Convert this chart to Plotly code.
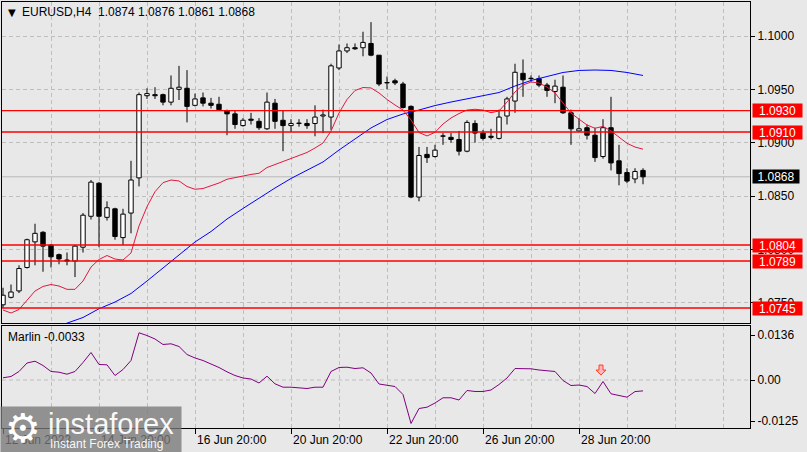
import plotly.graph_objects as go

# ---------------- data ----------------
opens = [1.0748,1.0755,1.0761,1.0783,1.0807,1.0816,1.0804,1.0795,1.0790,1.0789,
         1.0802,1.0831,1.0862,1.0830,1.0838,1.0811,1.0834,1.0867,1.0944,1.0945,
         1.0945,1.0938,1.0950,1.0951,1.0935,1.0942,1.0937,1.0936,1.0930,1.0927,
         1.0916,1.0922,1.0920,1.0913,1.0937,1.0921,1.0916,1.0918,1.0918,1.0918,
         1.0925,1.0924,1.0970,1.0986,1.0989,1.0989,1.0993,1.0982,1.0956,1.0958,
         1.0955,1.0934,1.0849,1.0889,1.0887,1.0906,1.0905,1.0903,1.0892,1.0918,
         1.0909,1.0906,1.0904,1.0925,1.0939,1.0965,1.0960,1.0960,1.0954,1.0948,
         1.0952,1.0928,1.0911,1.0914,1.0907,1.0887,1.0914,1.0883,1.0872,1.0866,
         1.0874]
closes = [1.0757,1.0760,1.0782,1.0809,1.0815,1.0803,1.0793,1.0791,1.0789,1.0803,
          1.0832,1.0863,1.0831,1.0839,1.0812,1.0833,1.0865,1.0945,1.0946,1.0944,
          1.0938,1.0951,1.0952,1.0934,1.0941,1.0937,1.0935,1.0931,1.0927,1.0917,
          1.0921,1.0921,1.0914,1.0938,1.0920,1.0916,1.0918,1.0918,1.0916,1.0924,
          1.0926,1.0972,1.0986,1.0989,1.0988,1.0994,1.0982,1.0955,1.0956,1.0956,
          1.0933,1.0849,1.0888,1.0886,1.0893,1.0906,1.0903,1.0892,1.0919,1.0909,
          1.0904,1.0905,1.0924,1.0941,1.0966,1.0959,1.0960,1.0954,1.0949,1.0953,
          1.0928,1.0913,1.0913,1.0907,1.0886,1.0914,1.0881,1.0871,1.0864,1.0873,
          1.0868]
highs = [1.0764,1.0767,1.0785,1.0810,1.0824,1.0817,1.0805,1.0796,1.0797,1.0804,
         1.0834,1.0865,1.0863,1.0845,1.0839,1.0838,1.0883,1.0947,1.0951,1.0952,
         1.0946,1.0963,1.0972,1.0968,1.0946,1.0947,1.0942,1.0943,1.0931,1.0930,
         1.0923,1.0928,1.0923,1.0947,1.0941,1.0930,1.0922,1.0922,1.0922,1.0935,
         1.0931,1.0974,1.0992,1.0993,1.0993,1.1004,1.1013,1.0982,1.0962,1.0960,
         1.0957,1.0935,1.0896,1.0896,1.0898,1.0909,1.0909,1.0911,1.0921,1.0921,
         1.0912,1.0913,1.0931,1.0943,1.0974,1.0978,1.0963,1.0963,1.0956,1.0959,
         1.0963,1.0931,1.0923,1.0917,1.0914,1.0922,1.0943,1.0898,1.0876,1.0876,
         1.0876]
lows = [1.0745,1.0754,1.0759,1.0782,1.0785,1.0779,1.0783,1.0786,1.0785,1.0774,
        1.0797,1.0828,1.0802,1.0827,1.0809,1.0804,1.0815,1.0859,1.0941,1.0941,
        1.0935,1.0935,1.0940,1.0919,1.0934,1.0934,1.0932,1.0930,1.0907,1.0913,
        1.0915,1.0917,1.0912,1.0912,1.0913,1.0892,1.0910,1.0915,1.0913,1.0906,
        1.0909,1.0912,1.0968,1.0984,1.0987,1.0981,1.0981,1.0953,1.0950,1.0954,
        1.0932,1.0848,1.0845,1.0881,1.0886,1.0898,1.0900,1.0888,1.0891,1.0900,
        1.0902,1.0903,1.0903,1.0917,1.0928,1.0943,1.0957,1.0952,1.0943,1.0937,
        1.0927,1.0898,1.0910,1.0903,1.0882,1.0885,1.0874,1.0860,1.0862,1.0862,
        1.0861]

ma_fast = [1.07431,1.07403,1.07436,1.07525,1.07609,1.07652,1.07670,1.07656,1.07625,1.07625,
           1.07703,1.07834,1.07905,1.07942,1.07909,1.07900,1.07966,1.08219,1.08400,1.08540,
           1.08625,1.08650,1.08641,1.08589,1.08563,1.08570,1.08594,1.08622,1.08657,1.08673,
           1.08692,1.08702,1.08713,1.08767,1.08795,1.08823,1.08852,1.08880,1.08908,1.08950,
           1.08997,1.09109,1.09278,1.09405,1.09489,1.09517,1.09513,1.09466,1.09405,1.09353,
           1.09306,1.09213,1.09095,1.09063,1.09097,1.09175,1.09231,1.09273,1.09306,1.09313,
           1.09306,1.09281,1.09297,1.09381,1.09475,1.09541,1.09569,1.09559,1.09522,1.09466,
           1.09370,1.09278,1.09220,1.09166,1.09135,1.09153,1.09110,1.09053,1.08994,1.08959,
           1.08939]

ma_slow_idx = [0,4,8,10,12,14,16,18,20,22,24,26,28,30,32,34,36,38,40,42,44,46,48,50,
               52,54,56,58,60,62,64,66,68,70,72,74,76,78,80]
ma_slow = [1.07038,1.07173,1.07308,1.07361,1.07443,1.07506,1.07586,1.07703,1.07828,1.07947,
           1.08069,1.08167,1.08284,1.08383,1.08481,1.08575,1.08664,1.08744,1.08819,1.08931,
           1.09034,1.09138,1.09217,1.09269,1.09306,1.09348,1.09381,1.09409,1.09438,1.09470,
           1.09531,1.09583,1.09620,1.09658,1.09677,1.09681,1.09677,1.09658,1.09630]

marlin = [0.00067,0.00106,0.00258,0.00515,0.0057,0.00439,0.00258,0.00236,0.00176,0.00258,
          0.0053,0.00833,0.0047,0.0046,0.00136,0.00318,0.00591,0.0143,0.01348,0.01242,
          0.01076,0.01097,0.01015,0.00773,0.00667,0.00591,0.00485,0.00379,0.00248,0.00136,
          0.00061,0.0003,-0.00091,0.00115,-0.00115,-0.00218,-0.00218,-0.00227,-0.00258,-0.00218,
          -0.00218,0.00258,0.00379,0.00388,0.00348,0.0037,0.00212,-0.00121,-0.00152,-0.00197,
          -0.0044,-0.01318,-0.00864,-0.00824,-0.00697,-0.00539,-0.00539,-0.00606,-0.00318,-0.00348,
          -0.00348,-0.00303,-0.00136,0.00061,0.00348,0.00348,0.00339,0.00303,0.00273,0.00258,
          -0.00015,-0.00167,-0.00152,-0.00197,-0.00409,-0.00045,-0.00418,-0.0047,-0.00521,-0.0035,
          -0.0033]

levels = [1.0930, 1.0910, 1.0804, 1.0789, 1.0745]
last_price = 1.0868
signal_bar = 74.75
signal_value = 0.0015

price_ticks = [1.1000, 1.0950, 1.0900, 1.0850, 1.0800, 1.0750]
osc_ticks = [0.0136, 0.0, -0.0125]
osc_ticktext = ["0.0136", "0.00", "-0.0125"]
date_idx = [0, 12, 24, 36, 48, 60, 72]
date_labels = ["12 Jun 2023", "14 Jun 20:00", "16 Jun 20:00", "20 Jun 20:00",
               "22 Jun 20:00", "26 Jun 20:00", "28 Jun 20:00"]
title_text = "EURUSD,H4  1.0874 1.0876 1.0861 1.0868"
osc_label = "Marlin -0.0033"

# ---------------- layout geometry ----------------
W, H = 807, 452
ML, MR, MT, MB = 2, 57, 2, 24
PW, PH = W - ML - MR, H - MT - MB


def fx(px):
    return (px - ML) / PW


def fy(py):
    return (H - MB - py) / PH


BG = "#E8E8E8"
GRID = "#BEBEBE"
DASH = "4px,3px"
FONT = "Liberation Sans, Arial, sans-serif"

n = len(opens)
idx = list(range(n))

fig = go.Figure()

# wicks (drawn outside the body)
wx, wy = [], []
for i in idx:
    top = max(opens[i], closes[i])
    bot = min(opens[i], closes[i])
    wx += [i, i, None, i, i, None]
    wy += [highs[i], top, None, bot, lows[i], None]
fig.add_trace(go.Scatter(x=wx, y=wy, mode="lines", line=dict(color="black", width=1),
                         hoverinfo="skip", xaxis="x", yaxis="y"))

# bodies
base = [min(o, c) for o, c in zip(opens, closes)]
height = [max(abs(c - o), 0.00004) for o, c in zip(opens, closes)]
colors = ["white" if c >= o else "black" for o, c in zip(opens, closes)]
fig.add_trace(go.Bar(x=idx, y=height, base=base, width=0.55,
                     marker=dict(color=colors, line=dict(color="black", width=1)),
                     hoverinfo="skip", xaxis="x", yaxis="y"))

# moving averages
fig.add_trace(go.Scatter(x=ma_slow_idx, y=ma_slow, mode="lines",
                         line=dict(color="#0000FF", width=1), hoverinfo="skip",
                         xaxis="x", yaxis="y"))
fig.add_trace(go.Scatter(x=idx, y=ma_fast, mode="lines",
                         line=dict(color="#E0193F", width=1), hoverinfo="skip",
                         xaxis="x", yaxis="y"))

# oscillator
fig.add_trace(go.Scatter(x=idx, y=marlin, mode="lines",
                         line=dict(color="#800080", width=1), hoverinfo="skip",
                         xaxis="x2", yaxis="y2"))

shapes = []
# current price line
shapes.append(dict(type="line", xref="x domain", x0=0, x1=1, yref="y",
                   y0=last_price, y1=last_price, line=dict(color="#B8B8B8", width=1),
                   layer="below"))
for lv in levels:
    shapes.append(dict(type="line", xref="x domain", x0=0, x1=1, yref="y",
                       y0=lv, y1=lv, line=dict(color="#FF0000", width=1.4)))
# zero line in oscillator
shapes.append(dict(type="line", xref="x2 domain", x0=0, x1=1, yref="y2", y0=0, y1=0,
                   line=dict(color=GRID, width=1, dash=DASH), layer="below"))
# signal arrow
shapes.append(dict(type="path", xref="x2", yref="y2", xsizemode="pixel", ysizemode="pixel",
                   xanchor=signal_bar, yanchor=signal_value,
                   path="M 0 0 L -5 5 L -2 5 L -2 10 L 2 10 L 2 5 L 5 5 Z",
                   fillcolor="#FFB4BE", line=dict(color="#FF4020", width=1)))

ann = []
ann.append(dict(xref="paper", yref="paper", x=fx(6), y=fy(12), xanchor="left", yanchor="middle",
                text="▼", showarrow=False, font=dict(family="DejaVu Sans", size=10, color="black")))
ann.append(dict(xref="paper", yref="paper", x=fx(20), y=fy(12), xanchor="left", yanchor="middle",
                text=title_text, showarrow=False, font=dict(family=FONT, size=12, color="#000010")))
ann.append(dict(xref="paper", yref="paper", x=fx(6), y=fy(337), xanchor="left", yanchor="middle",
                text=osc_label, showarrow=False, font=dict(family=FONT, size=12, color="black")))

for lv in levels:
    ann.append(dict(xref="paper", yref="y", x=fx(752), y=lv, xanchor="left", yanchor="middle",
                    text=f"{lv:.4f}", showarrow=False, bgcolor="#FF0000", width=49, height=13,
                    borderpad=0, font=dict(family=FONT, size=12, color="white")))
ann.append(dict(xref="paper", yref="y", x=fx(752), y=last_price, xanchor="left", yanchor="middle",
                text=f"{last_price:.4f}", showarrow=False, bgcolor="black", width=46, height=13,
                borderpad=0, font=dict(family=FONT, size=12, color="white")))

for i, lab in zip(date_idx, date_labels):
    ann.append(dict(xref="x2", yref="paper", x=i, y=0, xanchor="left", yanchor="top",
                    xshift=0, yshift=-3, text=lab, showarrow=False,
                    font=dict(family=FONT, size=12, color="black")))

# watermark logo
ann.append(dict(xref="paper", yref="paper", x=fx(0), y=fy(406), xanchor="left", yanchor="top",
                text=" ", showarrow=False, width=180, height=46, borderpad=0,
                bgcolor="rgba(120,120,120,0.78)"))
ann.append(dict(xref="paper", yref="paper", x=fx(23), y=fy(428), xanchor="center", yanchor="middle",
                text="⚙", showarrow=False, font=dict(family="DejaVu Sans", size=40, color="white")))
ann.append(dict(xref="paper", yref="paper", x=fx(46), y=fy(424), xanchor="left", yanchor="middle",
                text="instaforex", showarrow=False,
                font=dict(family=FONT, size=29, color="rgba(255,255,255,0.95)")))
ann.append(dict(xref="paper", yref="paper", x=fx(48), y=fy(444), xanchor="left", yanchor="middle",
                text="Instant Forex Trading", showarrow=False,
                font=dict(family=FONT, size=12, color="rgba(255,255,255,0.95)")))

xr = [-0.125, -0.125 + PW / 8.0]
grid_idx = list(range(6, 94, 6))

main_top, main_bot = 2, 323
osc_top, osc_bot = 326, 428

fig.update_layout(
    width=W, height=H, autosize=False,
    margin=dict(l=ML, r=MR, t=MT, b=MB, pad=0),
    paper_bgcolor=BG, plot_bgcolor=BG,
    showlegend=False, barmode="overlay", hovermode=False,
    font=dict(family=FONT, size=12, color="black"),
    shapes=shapes, annotations=ann,
    xaxis=dict(domain=[0, 1], range=xr, anchor="y", showticklabels=False,
               tickmode="array", tickvals=grid_idx, ticks="",
               showgrid=True, gridcolor=GRID, griddash=DASH, gridwidth=1,
               showline=True, linecolor="black", linewidth=1, mirror=True, zeroline=False),
    yaxis=dict(domain=[fy(main_bot), fy(main_top)],
               range=[1.1000 - (main_bot - 36) / 10666.67, 1.1000 + (36 - main_top) / 10666.67],
               anchor="x", side="right", tickmode="array", tickvals=price_ticks,
               tickformat=".4f", ticks="outside", ticklen=4, tickcolor="black",
               showgrid=True, gridcolor=GRID, griddash=DASH, gridwidth=1,
               showline=True, linecolor="black", linewidth=1, mirror=True, zeroline=False,
               tickfont=dict(family=FONT, size=12, color="black")),
    xaxis2=dict(domain=[0, 1], range=xr, anchor="y2", matches="x", showticklabels=False,
                tickmode="array", tickvals=date_idx, ticks="outside", ticklen=5, tickcolor="black",
                showgrid=True, gridcolor=GRID, griddash=DASH, gridwidth=1,
                minor=dict(tickmode="array", tickvals=grid_idx, showgrid=True, gridcolor=GRID,
                           griddash=DASH, gridwidth=1, ticks=""),
                showline=True, linecolor="black", linewidth=1, mirror=True, zeroline=False),
    yaxis2=dict(domain=[fy(osc_bot), fy(osc_top)],
                range=[-(osc_bot - 380) / 3300.0, (380 - osc_top) / 3300.0],
                anchor="x2", side="right", tickmode="array", tickvals=osc_ticks,
                ticktext=osc_ticktext, ticks="outside", ticklen=4, tickcolor="black",
                showgrid=False, showline=True, linecolor="black", linewidth=1, mirror=True,
                zeroline=False, tickfont=dict(family=FONT, size=12, color="black")),
)

fig.write_html("out.html", config={"displayModeBar": False, "staticPlot": True})
